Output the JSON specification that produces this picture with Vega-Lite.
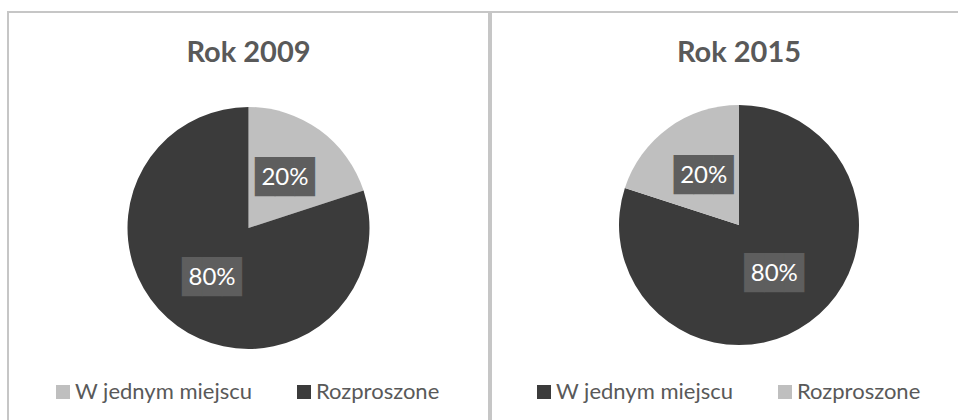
{
  "$schema": "https://vega.github.io/schema/vega-lite/v6.json",
  "padding": {"left": 7, "top": 11, "right": 0, "bottom": 0},
  "background": "white",
  "spacing": 0,
  "config": {
    "view": {"stroke": "#c6c6c6", "strokeWidth": 2},
    "font": "Lato",
    "title": {"fontSize": 29, "fontWeight": "bold", "color": "#595959", "font": "Lato", "anchor": "middle", "offset": -56, "baseline": "alphabetic"},
    "legend": {
      "orient": "none",
      "direction": "horizontal",
      "title": null,
      "symbolType": "square",
      "symbolSize": 196,
      "symbolStrokeWidth": 0,
      "labelFontSize": 22,
      "labelColor": "#595959",
      "labelFont": "Lato",
      "labelOffset": 1,
      "columnPadding": 40,
      "labelLimit": 400
    }
  },
  "datasets": {
    "rok2009": [
      {"kategoria": "W jednym miejscu", "udzial": 20, "kolejnosc": 1, "etykieta": "20%"},
      {"kategoria": "Rozproszone", "udzial": 80, "kolejnosc": 2, "etykieta": "80%"}
    ],
    "rok2015": [
      {"kategoria": "W jednym miejscu", "udzial": 80, "kolejnosc": 1, "etykieta": "80%"},
      {"kategoria": "Rozproszone", "udzial": 20, "kolejnosc": 2, "etykieta": "20%"}
    ]
  },
  "hconcat": [
    {
      "width": 481,
      "height": 432,
      "view": {"stroke": "#c6c6c6", "strokeWidth": 2, "fill": "white"},
      "title": "Rok 2009",
      "data": {"name": "rok2009"},
      "encoding": {
        "theta": {"field": "udzial", "type": "quantitative", "stack": true},
        "order": {"field": "kolejnosc", "type": "quantitative"}
      },
      "layer": [
        {
          "mark": {"type": "arc", "outerRadius": 121},
          "encoding": {
            "color": {
              "field": "kategoria",
              "type": "nominal",
              "scale": {"domain": ["W jednym miejscu", "Rozproszone"], "range": ["#bfbfbf", "#3b3b3b"]},
              "legend": {"legendX": 44, "legendY": 369}
            }
          }
        },
        {
          "mark": {"type": "text", "radius": 62, "font": "DejaVu Sans Mono", "fontSize": 33, "color": "#5e5e5e", "baseline": "middle"},
          "encoding": {"text": {"value": "███"}}
        },
        {
          "mark": {"type": "text", "radius": 62, "font": "Lato", "fontSize": 24, "color": "white", "baseline": "middle"},
          "encoding": {"text": {"field": "etykieta"}}
        }
      ]
    },
    {
      "width": 496,
      "height": 426,
      "view": {"stroke": "#c6c6c6", "strokeWidth": 2, "fill": "white"},
      "title": "Rok 2015",
      "data": {"name": "rok2015"},
      "encoding": {
        "theta": {"field": "udzial", "type": "quantitative", "stack": true},
        "order": {"field": "kolejnosc", "type": "quantitative"}
      },
      "layer": [
        {
          "mark": {"type": "arc", "outerRadius": 120},
          "encoding": {
            "color": {
              "field": "kategoria",
              "type": "nominal",
              "scale": {"domain": ["W jednym miejscu", "Rozproszone"], "range": ["#3b3b3b", "#bfbfbf"]},
              "legend": {"legendX": 42, "legendY": 369}
            }
          }
        },
        {
          "mark": {"type": "text", "radius": 60, "font": "DejaVu Sans Mono", "fontSize": 33, "color": "#5e5e5e", "baseline": "middle"},
          "encoding": {"text": {"value": "███"}}
        },
        {
          "mark": {"type": "text", "radius": 60, "font": "Lato", "fontSize": 24, "color": "white", "baseline": "middle"},
          "encoding": {"text": {"field": "etykieta"}}
        }
      ]
    }
  ],
  "resolve": {"scale": {"color": "independent", "theta": "independent"}, "legend": {"color": "independent"}}
}
